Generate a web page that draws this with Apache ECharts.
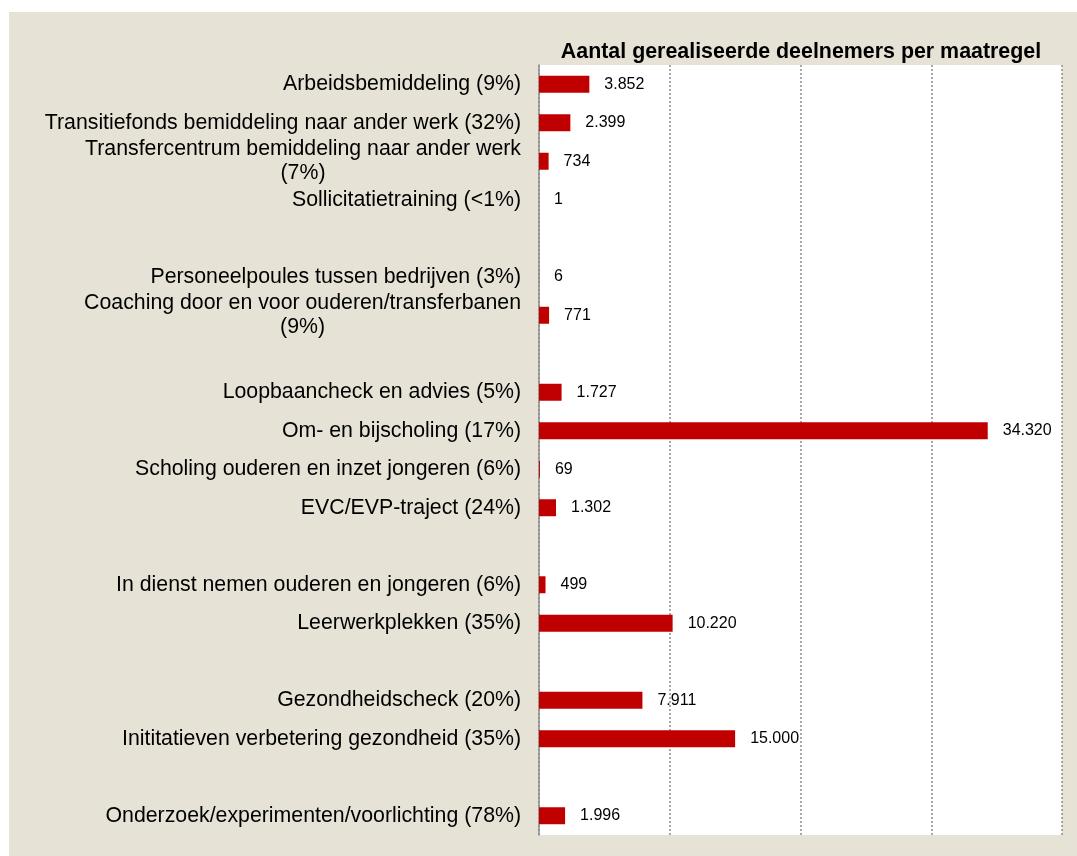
<!DOCTYPE html>
<html>
<head>
<meta charset="utf-8">
<title>Aantal gerealiseerde deelnemers per maatregel</title>
<script src="https://cdn.jsdelivr.net/npm/echarts@6/dist/echarts.min.js"></script>
<style>
  html, body { margin: 0; padding: 0; background: #fff; }
  #chart { position: absolute; left: 9px; top: 12px; width: 1068px; height: 844px; }
</style>
</head>
<body>
<div id="chart"></div>
<script>
// maatregelen (lege regels = witruimte tussen groepen)
const categories = [
  'Arbeidsbemiddeling (9%)',
  'Transitiefonds bemiddeling naar ander werk (32%)',
  'Transfercentrum bemiddeling naar ander werk\n(7%)',
  'Sollicitatietraining (<1%)',
  '',
  'Personeelpoules tussen bedrijven (3%)',
  'Coaching door en voor ouderen/transferbanen\n(9%)',
  '',
  'Loopbaancheck en advies (5%)',
  'Om- en bijscholing (17%)',
  'Scholing ouderen en inzet jongeren (6%)',
  'EVC/EVP-traject (24%)',
  '',
  'In dienst nemen ouderen en jongeren (6%)',
  'Leerwerkplekken (35%)',
  '',
  'Gezondheidscheck (20%)',
  'Inititatieven verbetering gezondheid (35%)',
  '',
  'Onderzoek/experimenten/voorlichting (78%)'
];

const deelnemers = [
  3852, 2399, 734, 1, null, 6, 771, null, 1727, 34320,
  69, 1302, null, 499, 10220, null, 7911, 15000, null, 1996
];

const xTicks = [0, 10000, 20000, 30000, 40000];

const fontFamily = 'Arial, "Liberation Sans", sans-serif';

// 34320 -> 34.320
function formatNl(v) {
  return String(v).replace(/\B(?=(\d{3})+(?!\d))/g, '.');
}

const chart = echarts.init(document.getElementById('chart'));

const option = {
  backgroundColor: '#e6e3d6',
  animation: false,
  title: {
    text: 'Aantal gerealiseerde deelnemers per maatregel',
    left: 787,
    top: 25,
    textAlign: 'center',
    textStyle: {
      fontFamily: fontFamily,
      fontSize: 21.4,
      fontWeight: 'bold',
      color: '#000'
    }
  },
  grid: {
    left: 530,
    right: 15,
    top: 53,
    bottom: 21,
    backgroundColor: '#fff',
    show: true,
    borderWidth: 0
  },
  xAxis: {
    type: 'value',
    min: xTicks[0],
    max: xTicks[xTicks.length - 1],
    interval: xTicks[1] - xTicks[0],
    axisLabel: { show: false },
    axisLine: { show: false },
    axisTick: { show: false },
    splitLine: {
      show: true,
      lineStyle: { color: '#8c8c8c', width: 1.5, type: [2, 2] }
    }
  },
  yAxis: {
    type: 'category',
    inverse: true,
    data: categories,
    axisLine: { lineStyle: { color: '#8c8c8c', width: 1.5 } },
    axisTick: { length: 6, lineStyle: { color: '#8c8c8c', width: 1.5 } },
    axisLabel: {
      margin: 18,
      fontFamily: fontFamily,
      fontSize: 21.3,
      color: '#000',
      lineHeight: 24,
      interval: 0,
      formatter: function (name) {
        if (name.indexOf('\n') < 0) return name;
        return name.split('\n').map(function (s) { return '{c|' + s + '}'; }).join('\n');
      },
      rich: {
        c: {
          align: 'center',
          fontFamily: fontFamily,
          fontSize: 21.3,
          lineHeight: 24,
          color: '#000'
        }
      }
    }
  },
  series: [
    {
      type: 'bar',
      data: deelnemers,
      barWidth: 17,
      itemStyle: { color: '#c00000' },
      label: {
        show: true,
        position: 'right',
        distance: 15,
        fontFamily: fontFamily,
        fontSize: 16,
        color: '#000',
        formatter: function (p) { return formatNl(p.value); }
      }
    }
  ]
};

chart.setOption(option);
</script>
</body>
</html>
